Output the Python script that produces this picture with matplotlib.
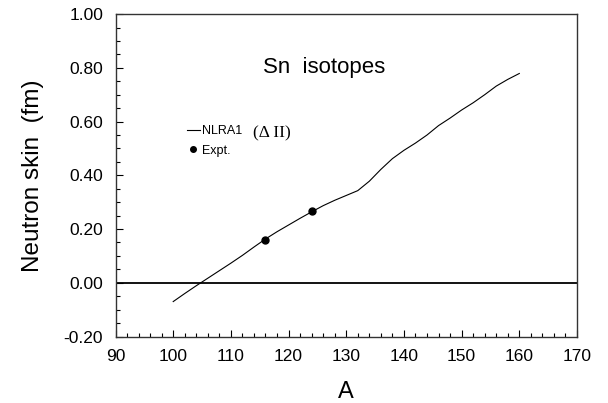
import numpy as np
import matplotlib.pyplot as plt

plt.rcParams['font.family'] = ['Liberation Sans', 'DejaVu Sans']

# NLRA1 calculation, neutron skin vs mass number
A_calc = [100, 102, 104, 106, 108, 110, 112, 114, 116, 118, 120, 122, 124, 126, 128, 130,
          132, 134, 136, 138, 140, 142, 144, 146, 148, 150, 152, 154, 156, 158, 160]
skin_calc = [-0.070, -0.040, -0.011, 0.017, 0.045, 0.073, 0.102, 0.133, 0.163, 0.190, 0.215,
             0.240, 0.264, 0.287, 0.307, 0.325, 0.343, 0.378, 0.422, 0.462, 0.493, 0.520,
             0.550, 0.585, 0.613, 0.643, 0.670, 0.700, 0.732, 0.757, 0.779]

# experimental points
A_exp = [116, 124]
skin_exp = [0.158, 0.266]

xticks = [90, 100, 110, 120, 130, 140, 150, 160, 170]
yticks = [-0.20, 0.00, 0.20, 0.40, 0.60, 0.80, 1.00]

fig = plt.figure(figsize=(6.08, 4.03), dpi=100)
ax = fig.add_axes([0.190, 0.165, 0.759, 0.800])

ax.axhline(0, color='black', lw=1.3, zorder=1)
ax.plot(A_calc, skin_calc, '-', color='black', lw=0.8, label='NLRA1')
ax.plot(A_exp, skin_exp, 'o', color='black', ms=5, label='Expt.')

ax.set_xlim(90, 170)
ax.set_ylim(-0.20, 1.00)
ax.set_xticks(xticks)
ax.set_yticks(yticks)
ax.set_yticklabels(['%.2f' % v for v in yticks])
ax.set_xticks(np.arange(90, 171, 2), minor=True)
ax.set_yticks(np.arange(-0.2, 1.001, 0.05), minor=True)
ax.tick_params(which='both', direction='in', top=False, right=False, labelsize=12.5, pad=9)
ax.tick_params(which='major', length=5, width=0.8)
ax.tick_params(which='minor', length=3, width=0.8)
for s in ax.spines.values():
    s.set_linewidth(1.0)
    s.set_color('#333333')

ax.set_xlabel('A', fontsize=17, labelpad=12)
ax.set_ylabel('Neutron skin  (fm)', fontsize=17.5, labelpad=14)

ax.text(126.2, 0.80, 'Sn  isotopes', fontsize=16, ha='center', va='center')

leg = ax.legend(loc='upper left', bbox_to_anchor=(0.1546, 0.655), frameon=False, fontsize=9,
                handlelength=1.05, handletextpad=0.15, labelspacing=0.6, numpoints=1,
                markerscale=0.8, borderpad=0, borderaxespad=0)
ax.text(113.8, 0.555, '(\u0394 II)', fontsize=12.5, family='Liberation Serif', ha='left', va='center')

fig.savefig('out.png', dpi=100)
